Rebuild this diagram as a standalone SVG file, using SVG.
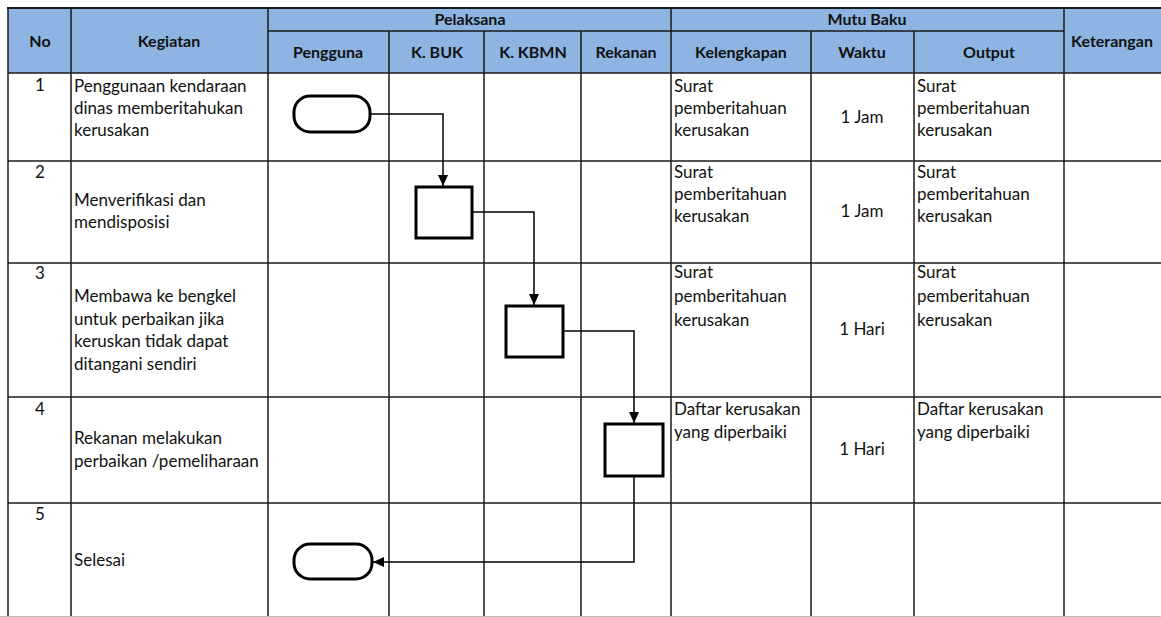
<svg xmlns="http://www.w3.org/2000/svg" width="1161" height="617" viewBox="0 0 1161 617">
<style>
.grid{stroke:#1a1a1a;stroke-width:1.5;fill:none}
.hdr{fill:#8db4e2}
.ht{font-family:Lato,"Liberation Sans",sans-serif;font-weight:bold;font-size:16px;fill:#111;text-anchor:middle}
.t{font-family:Lato,"Liberation Sans",sans-serif;font-size:17px;fill:#111}
.c{text-anchor:middle}
.shape{fill:#fff;stroke:#000;stroke-width:3}
.conn{stroke:#000;stroke-width:1.5;fill:none}
</style>
<defs>
<marker id="arr" markerUnits="userSpaceOnUse" markerWidth="12" markerHeight="12" refX="11" refY="6" orient="auto">
<path d="M0,1 L11,6 L0,11 Z" fill="#000"/>
</marker>
</defs>
<rect width="1161" height="617" fill="#fff"/>
<g id="header">
<rect class="hdr" x="8" y="8" width="1153" height="65"/>
<text class="ht" x="40" y="47">No</text>
<text class="ht" x="169" y="47">Kegiatan</text>
<text class="ht" x="470" y="25">Pelaksana</text>
<text class="ht" x="867" y="25">Mutu Baku</text>
<text class="ht" x="328" y="58">Pengguna</text>
<text class="ht" x="437" y="58">K. BUK</text>
<text class="ht" x="533" y="58">K. KBMN</text>
<text class="ht" x="626" y="58">Rekanan</text>
<text class="ht" x="741" y="58">Kelengkapan</text>
<text class="ht" x="862" y="58">Waktu</text>
<text class="ht" x="989" y="58">Output</text>
<text class="ht" x="1112" y="47">Keterangan</text>
</g>
<g id="grid" class="grid">
<line x1="7" y1="8" x2="1161" y2="8" stroke-width="2"/>
<line x1="268" y1="31" x2="1064" y2="31"/>
<line x1="8" y1="73" x2="1161" y2="73"/>
<line x1="8" y1="161" x2="1161" y2="161"/>
<line x1="8" y1="263" x2="1161" y2="263"/>
<line x1="8" y1="397" x2="1161" y2="397"/>
<line x1="8" y1="503" x2="1161" y2="503"/>
<line x1="8" y1="8" x2="8" y2="617"/>
<line x1="71" y1="8" x2="71" y2="617"/>
<line x1="268" y1="8" x2="268" y2="617"/>
<line x1="389" y1="31" x2="389" y2="617"/>
<line x1="484" y1="31" x2="484" y2="617"/>
<line x1="581" y1="31" x2="581" y2="617"/>
<line x1="671" y1="8" x2="671" y2="617"/>
<line x1="811" y1="31" x2="811" y2="617"/>
<line x1="914" y1="31" x2="914" y2="617"/>
<line x1="1064" y1="8" x2="1064" y2="617"/>
<line x1="0" y1="616.5" x2="1161" y2="616.5" stroke="#bbb" stroke-width="1"/>
</g>
<g id="row1">
<text class="t c" x="40" y="91">1</text>
<text class="t" x="74" y="92">Penggunaan kendaraan</text>
<text class="t" x="74" y="114">dinas memberitahukan</text>
<text class="t" x="74" y="136">kerusakan</text>
<text class="t" x="674" y="92">Surat</text>
<text class="t" x="674" y="114">pemberitahuan</text>
<text class="t" x="674" y="136">kerusakan</text>
<text class="t c" x="862" y="123">1 Jam</text>
<text class="t" x="917" y="92">Surat</text>
<text class="t" x="917" y="114">pemberitahuan</text>
<text class="t" x="917" y="136">kerusakan</text>
</g>
<g id="row2">
<text class="t c" x="40" y="178">2</text>
<text class="t" x="74" y="206">Menverifikasi dan</text>
<text class="t" x="74" y="228">mendisposisi</text>
<text class="t" x="674" y="178">Surat</text>
<text class="t" x="674" y="200">pemberitahuan</text>
<text class="t" x="674" y="222">kerusakan</text>
<text class="t c" x="862" y="217">1 Jam</text>
<text class="t" x="917" y="178">Surat</text>
<text class="t" x="917" y="200">pemberitahuan</text>
<text class="t" x="917" y="222">kerusakan</text>
</g>
<g id="row3">
<text class="t c" x="40" y="279">3</text>
<text class="t" x="74" y="302">Membawa ke bengkel</text>
<text class="t" x="74" y="325">untuk perbaikan jika</text>
<text class="t" x="74" y="347">keruskan tidak dapat</text>
<text class="t" x="74" y="370">ditangani sendiri</text>
<text class="t" x="674" y="278">Surat</text>
<text class="t" x="674" y="302">pemberitahuan</text>
<text class="t" x="674" y="326">kerusakan</text>
<text class="t c" x="862" y="335">1 Hari</text>
<text class="t" x="917" y="278">Surat</text>
<text class="t" x="917" y="302">pemberitahuan</text>
<text class="t" x="917" y="326">kerusakan</text>
</g>
<g id="row4">
<text class="t c" x="40" y="415">4</text>
<text class="t" x="74" y="444">Rekanan melakukan</text>
<text class="t" x="74" y="467">perbaikan /pemeliharaan</text>
<text class="t" x="674" y="415">Daftar kerusakan</text>
<text class="t" x="674" y="438">yang diperbaiki</text>
<text class="t c" x="862" y="455">1 Hari</text>
<text class="t" x="917" y="415">Daftar kerusakan</text>
<text class="t" x="917" y="438">yang diperbaiki</text>
</g>
<g id="row5">
<text class="t c" x="40" y="520">5</text>
<text class="t" x="74" y="566">Selesai</text>
</g>
<g id="connectors">
<polyline class="conn" points="370,114 443,114 443,186" marker-end="url(#arr)"/>
<polyline class="conn" points="472,212 534,212 534,305" marker-end="url(#arr)"/>
<polyline class="conn" points="563,331 634,331 634,423" marker-end="url(#arr)"/>
<polyline class="conn" points="634,476 634,562 373,562" marker-end="url(#arr)"/>
</g>
<g id="start"><rect class="shape" x="294" y="96" width="76" height="36" rx="16"/></g>
<g id="step2"><rect class="shape" x="416" y="187" width="56" height="51"/></g>
<g id="step3"><rect class="shape" x="506" y="306" width="57" height="51"/></g>
<g id="step4"><rect class="shape" x="605" y="424" width="58" height="52"/></g>
<g id="end"><rect class="shape" x="294" y="544" width="78" height="35" rx="16"/></g>
</svg>
